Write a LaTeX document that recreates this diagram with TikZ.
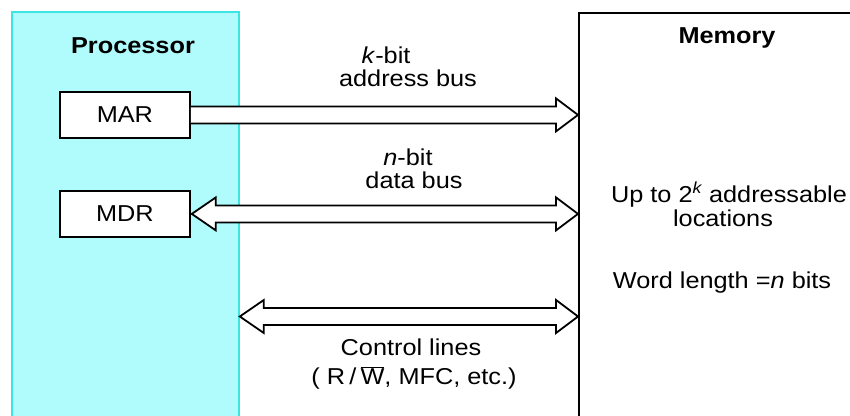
\documentclass[tikz,border=0pt]{standalone}
\usepackage{fontspec}
\setmainfont{Liberation Sans}
\usetikzlibrary{calc}
\newcommand\hs[1]{\scalebox{1.1}[1]{#1}}
\definecolor{proccyan}{HTML}{B0FCFC}
\definecolor{procedge}{HTML}{3CE4E4}
\tikzset{
  txt/.style={inner sep=0pt, font=\fontsize{23}{27}\selectfont},
  ttl/.style={inner sep=0pt, font=\fontsize{23}{27}\selectfont\bfseries},
  reg/.style={draw=black, line width=1.8pt, fill=white, inner sep=0pt, anchor=north west,
              minimum width=130pt, minimum height=46pt, font=\fontsize{23}{27}\selectfont},
  bus/.style={draw=black, line width=1.8pt, fill=white, line join=miter},
}
\begin{document}
\begin{tikzpicture}[x=1pt,y=-1pt]
\fill[white] (0,0) rectangle (850,415);
\useasboundingbox (0,0) rectangle (850,415);
\begin{scope}
\clip (0,0) rectangle (850,415);
\node (proc) [draw=procedge, fill=proccyan, line width=1.8pt, anchor=north west, inner sep=0pt,
  minimum width=227pt, minimum height=430pt] at (11,11) {};
\node (mem) [draw=black, fill=white, line width=1.8pt, anchor=north west, inner sep=0pt,
  minimum width=300pt, minimum height=430pt] at (578,12) {};
\end{scope}
\node (mar) [reg] at (59,91) {\hs{MAR}};
\node (mdr) [reg] at (59,190) {\hs{MDR}};
% address bus
\coordinate (a1) at (mar.east);
\coordinate (a2) at (mar.east -| mem.west);
\draw[bus] ($(a1)+(0,-8.5)$) -- ($(a2)+(-22,-8.5)$) -- ($(a2)+(-22,-16.5)$) -- (a2)
  -- ($(a2)+(-22,16.5)$) -- ($(a2)+(-22,8.5)$) -- ($(a1)+(0,8.5)$);
% data bus
\coordinate (d1) at ($(mdr.east)+(1,0)$);
\coordinate (d2) at (d1 -| mem.west);
\draw[bus] (d1) -- ($(d1)+(24,-16.5)$) -- ($(d1)+(24,-8.5)$) -- ($(d2)+(-22,-8.5)$)
  -- ($(d2)+(-22,-16.5)$) -- (d2) -- ($(d2)+(-22,16.5)$) -- ($(d2)+(-22,8.5)$)
  -- ($(d1)+(24,8.5)$) -- ($(d1)+(24,16.5)$) -- cycle;
% control lines
\coordinate (c1) at (proc.east |- 0,316.5);
\coordinate (c2) at (c1 -| mem.west);
\draw[bus] (c1) -- ($(c1)+(24,-16.5)$) -- ($(c1)+(24,-8.5)$) -- ($(c2)+(-22,-8.5)$)
  -- ($(c2)+(-22,-16.5)$) -- (c2) -- ($(c2)+(-22,16.5)$) -- ($(c2)+(-22,8.5)$)
  -- ($(c1)+(24,8.5)$) -- ($(c1)+(24,16.5)$) -- cycle;
% titles
\node (tproc) [ttl] at (133,46) {\hs{Processor}};
\node (tmem) [ttl] at (727,38) {\hs{Memory}};
% bus labels
\node (kbit) [txt] at (386,55) {\hs{\textit{k}-bit}};
\node (abus) [txt] at (408,78) {\hs{address bus}};
\node (nbit) [txt] at (408,157) {\hs{\textit{n}-bit}};
\node (dbus) [txt] at (414,180) {\hs{data bus}};
\node (ctl1) [txt] at (411,347) {\hs{Control lines}};
\node (ctl2) [txt] at (414,378) {\hs{( R\,/\,$\overline{\hbox{W}}$, MFC, etc.)}};
% memory text
\node (m1) [txt] at (729,195) {\hs{Up to 2\textsuperscript{\itshape k} addressable}};
\node (m2) [txt] at (723,218) {\hs{locations}};
\node (m3) [txt] at (722,283) {\hs{Word length =\textit{n} bits}};
\end{tikzpicture}
\end{document}
